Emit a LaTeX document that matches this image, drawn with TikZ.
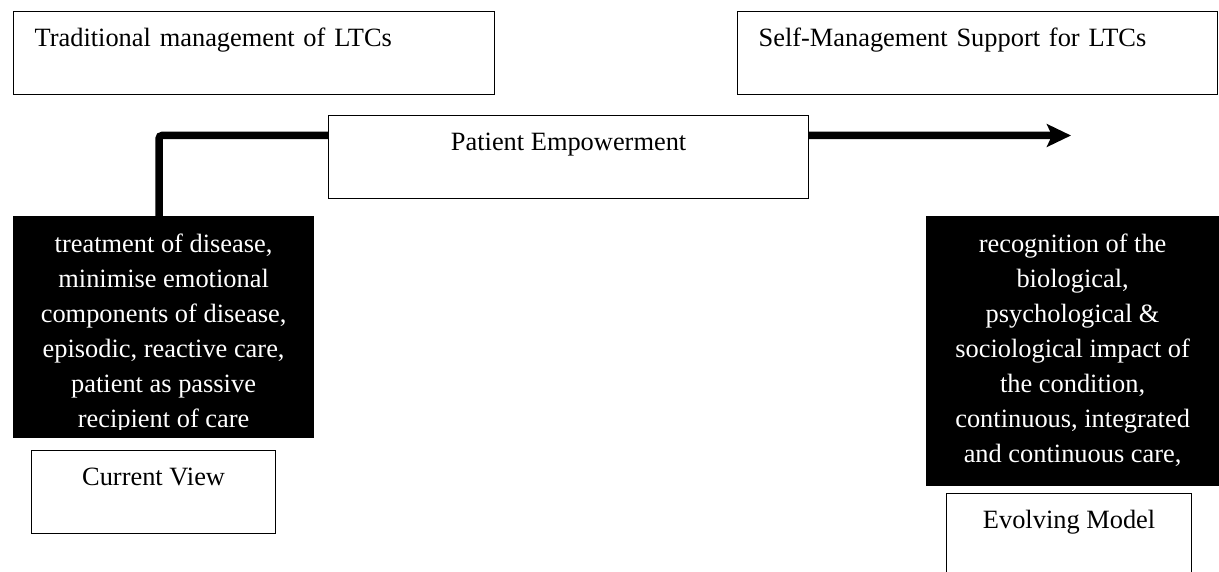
\documentclass[tikz,border=0pt]{standalone}
\usepackage{fontspec}
\setmainfont{Liberation Serif}
\usetikzlibrary{arrows.meta,positioning}

\begin{document}
\begin{tikzpicture}[x=0.5pt, y=-0.5pt,
    every node/.style={font=\fontsize{13.2}{17.5}\selectfont},
    plainbox/.style={draw, line width=0.6pt, fill=white, inner ysep=0pt, text height=17.5pt, text depth=24pt},
    leftbox/.style={plainbox, anchor=north west, inner xsep=10.5pt, align=left},
    darkbox/.style={draw=black, fill=black, line width=0.6pt, inner sep=0pt, anchor=north west},
    darktext/.style={text=white, align=center, inner sep=0pt, anchor=north},
    flow/.style={line width=3.75pt, rounded corners=1.5pt, -{Stealth[length=12pt, width=11.3pt, inset=2.5pt]}}]
    \useasboundingbox (0,0) rectangle (1219,572);

    % the two headings
    \node[leftbox, text width=219.5pt] (trad) at (13,11) {Traditional management of LTCs};
    \node[leftbox, text width=219pt] (selfman) at (737,11) {Self-Management Support for LTCs};

    % black panels
    \node[darkbox, minimum width=150pt, minimum height=110.5pt] (curpanel) at (13,216) {};
    \node[darkbox, minimum width=146pt, minimum height=134.5pt] (evopanel) at (926,216) {};
    \begin{scope}
        \clip (curpanel.north west) rectangle ([yshift=4.5pt]curpanel.south east);
        \node[darktext] (curtext) at ([yshift=-5.6pt]curpanel.north) {\strut treatment of disease,\\ minimise emotional\\ components of disease,\\ episodic, reactive care,\\ patient as passive\\ recipient of care};
    \end{scope}
    \node[darktext] (evotext) at ([yshift=-5.6pt]evopanel.north) {\strut recognition of the\\ biological,\\ psychological \&\\ sociological impact of\\ the condition,\\ continuous, integrated\\ and continuous care,};

    % labels under the panels
    \node[plainbox, minimum width=122pt, below right=6pt and 9pt of curpanel.south west] (curview) {Current View};
    \node[plainbox, minimum width=122.5pt, below right=3.5pt and 10pt of evopanel.south west] (evomodel) {Evolving Model};

    % empowerment arrow, box drawn on top of it
    \coordinate (arrowtip) at (1071,135.5);
    \draw[flow] ([xshift=-2.25pt]curpanel.north) |- (arrowtip);
    \node[plainbox, anchor=north west, minimum width=240pt] (emp) at (328,115) {Patient Empowerment};
\end{tikzpicture}
\end{document}
